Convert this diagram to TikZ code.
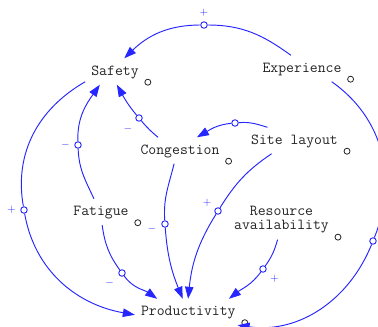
\documentclass[tikz,border=0pt]{standalone}
\usepackage{fontspec}
\usepackage{tikz}
\usetikzlibrary{arrows.meta,positioning}
\definecolor{linkblue}{RGB}{38,38,255}
\definecolor{vargrey}{RGB}{35,35,35}
\tikzset{
  var/.style={font=\ttfamily\fontsize{15.3}{14}\selectfont, text=vargrey, inner xsep=6pt, inner ysep=6.5pt, text height=10pt, text depth=3pt},
  link/.style={draw=linkblue, line width=0.95pt, -{Triangle[length=12pt,width=8.5pt]}},
  hnd/.style={circle, draw=linkblue, fill=white, line width=0.9pt, inner sep=0pt, minimum size=6.5pt},
  vmark/.style={circle, draw=vargrey, line width=0.8pt, inner sep=0pt, minimum size=6pt},
  sgn/.style={text=linkblue, font=\fontsize{11}{11}\selectfont, inner sep=0.5pt}
}
\begin{document}
\begin{tikzpicture}[x=1pt,y=1pt]
\useasboundingbox (0,0) rectangle (378,-327);
\node[var] (saf) at (115,-71.5) {Safety};
\node[var] (exp) at (302,-68.5) {Experience};
\node[var] (con) at (180,-150.5) {Congestion};
\node[var] (sit) at (294.5,-140.5) {Site layout};
\node[var] (fat) at (101,-212) {Fatigue};
\node[var, align=center, text height={}, text depth={}] (res) at (281.5,-219.5) {Resource\\availability};
\node[var] (pro) at (188.3,-312) {Productivity};
\foreach \v in {saf,exp,con,sit,fat,res,pro}
  \node[vmark] (\v-o) at ([shift={(3pt,2.5pt)}]\v.south east) {};
\node[hnd, label={[sgn,label distance=4pt]90:$+$}] (h1) at (204,-25) {};
\node[hnd, label={[sgn,label distance=4pt]180:$+$}] (h2) at (24,-210) {};
\node[hnd, label={[sgn,label distance=4pt]180:$-$}] (h3) at (78,-145) {};
\node[hnd, label={[sgn,label distance=5.5pt]228:$-$}] (h4) at (139,-118) {};
\node[hnd] (h5) at (235,-123) {};
\node[hnd, label={[sgn,label distance=4.5pt]185:$-$}] (h6) at (165,-224) {};
\node[hnd, label={[sgn,label distance=3.5pt]145:$+$}] (h7) at (218,-211) {};
\node[hnd, label={[sgn,label distance=5.5pt]217:$-$}] (h8) at (122,-273) {};
\node[hnd, label={[sgn,label distance=4.5pt]-39:$+$}] (h9) at (263,-269) {};
\node[hnd] (h10) at (373,-241) {};
\draw[link] (exp.130) to[out=144,in=0] (h1) to[out=180,in=44] (saf.55);
\draw[link] (saf.199) to[out=210,in=100] (h2) to[out=280,in=170] (pro.183);
\draw[link] (fat.118) to[out=115,in=272] (h3) to[out=92,in=235] (saf.221);
\draw[link] (con.149) to[out=140,in=310] (h4) to[out=130,in=299] (saf.278);
\draw[link] (sit.154) to[out=163,in=5] (h5) to[out=185,in=30] (con.38);
\draw[link] (con.246) to[out=256,in=94] (h6) to[out=274,in=112] (pro.113);
\draw[link] (sit.210) to[out=214,in=58] (h7) to[out=238,in=84] (pro.91);
\draw[link] (fat.275) to[out=278,in=126] (h8) to[out=306,in=145] (pro.157);
\draw[link] (res.259) to[out=254,in=54] (h9) to[out=234,in=38] (pro.18);
\draw[link] (exp.336) to[out=325,in=68] (h10) to[out=248,in=352] (pro.345);
\end{tikzpicture}
\end{document}
